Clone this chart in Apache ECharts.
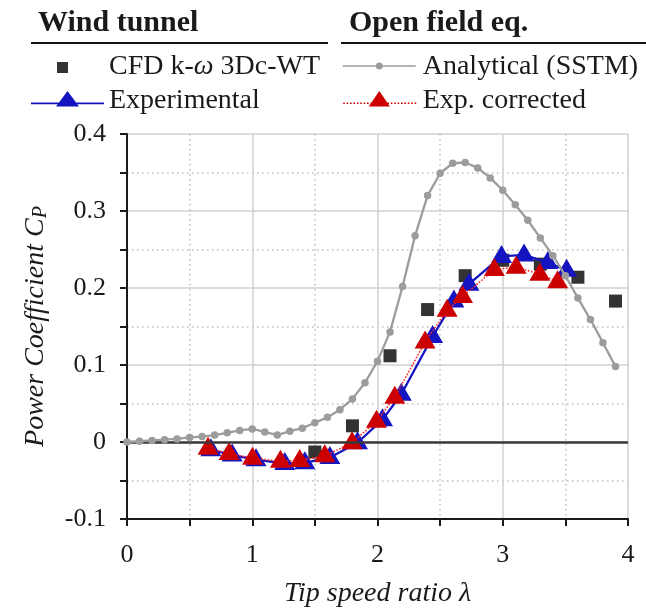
<!DOCTYPE html>
<html><head><meta charset="utf-8">
<script src="https://cdn.jsdelivr.net/npm/echarts@6/dist/echarts.min.js"></script>
<style>html,body{margin:0;padding:0;background:#fff}#c{width:646px;height:613px}</style>
</head><body><div id="c"></div>
<script>
// ---- data ----
const xTicks = [0, 1, 2, 3, 4];
const yTicks = [-0.1, 0, 0.1, 0.2, 0.3, 0.4];

const sstmLambda = [0,0.1,0.2,0.3,0.4,0.5,0.6,0.7,0.8,0.9,1.0,1.1,1.2,1.3,1.4,1.5,1.6,1.7,1.8,1.9,
                    2.0,2.1,2.2,2.3,2.4,2.5,2.6,2.7,2.8,2.9,3.0,3.1,3.2,3.3,3.4,3.5,3.6,3.7,3.8,3.9];
const sstmCp = [0.000,0.001,0.002,0.003,0.004,0.006,0.007,0.009,0.012,0.015,0.017,0.013,0.009,0.014,0.018,
                0.025,0.032,0.042,0.056,0.077,0.105,0.143,0.202,0.268,0.320,0.349,0.362,0.363,0.356,0.343,
                0.327,0.308,0.288,0.265,0.242,0.216,0.187,0.159,0.129,0.098];

const cfdLambda = [1.5, 1.8, 2.1, 2.4, 2.7, 3.0, 3.3, 3.6, 3.9];
const cfdCp     = [-0.013, 0.021, 0.112, 0.172, 0.216, 0.236, 0.231, 0.214, 0.183];

const expLambda = [0.67, 0.84, 1.03, 1.26, 1.42, 1.62, 1.84, 2.04, 2.19, 2.44, 2.61, 2.73, 2.99, 3.17, 3.36, 3.51];
const expCp     = [-0.010, -0.017, -0.023, -0.028, -0.027, -0.020, -0.001, 0.029, 0.062, 0.137, 0.183, 0.205, 0.241, 0.243, 0.233, 0.223];

const corLambda = [0.647, 0.815, 1.002, 1.225, 1.379, 1.579, 1.797, 1.992, 2.138, 2.38, 2.556, 2.679, 2.933, 3.107, 3.296, 3.438];
const corCp     = [-0.008, -0.015, -0.021, -0.025, -0.024, -0.018, -0.001, 0.027, 0.058, 0.130, 0.171, 0.189, 0.224, 0.227, 0.218, 0.208];

const NAME_CFD = 'CFD k-ω 3Dc-WT';
const NAME_EXP = 'Experimental';
const NAME_SSTM = 'Analytical (SSTM)';
const NAME_COR = 'Exp. corrected';

// ---- styling ----
const FONT = 'Liberation Serif';
const TXT = '#1a1a1a';
const GRAY = '#9c9c9c';
const BLUE = '#1414c0';
const RED = '#cc0000';
const RED_LINE = '#ff2a2a';

const pairs = (xs, ys) => xs.map((x, i) => [x, ys[i]]);

// legend icons (paths sized to the legend item box)
let dots = '';
for (let x = 0.5; x < 73; x += 3.4) { dots += 'M' + x.toFixed(2) + ' 11.5h1.6v1.6h-1.6Z'; }
const ICON_CFD  = 'path://M0 0M73 20M26 5H37V16H26Z';
const ICON_EXP  = 'path://M0 0M73 20M0 11.5H73V13.2H0Z M25 15.5L36.5 0L48 15.5Z';
const ICON_SSTM = 'path://M0 0M75 20M0 8.2H73V9.8H0Z M33.1 9A3.5 3.5 0 1 1 40.1 9A3.5 3.5 0 1 1 33.1 9Z';
const ICON_COR  = 'path://M0 0M75 20' + dots + 'M26 15.5L36.6 0L47.2 15.5Z';

const legendText = {
  fontFamily: FONT, fontSize: 28, lineHeight: 28, color: TXT,
  rich: { i: { fontFamily: FONT, fontSize: 28, lineHeight: 28, fontStyle: 'italic', color: TXT } }
};
const fmt = n => n.replace('ω', '{i|ω}');

const chart = echarts.init(document.getElementById('c'), null, { renderer: 'canvas' });
chart.setOption({
  animation: false,
  backgroundColor: '#ffffff',
  grid: { left: 127, right: 18, top: 134, bottom: 91, containLabel: false },
  graphic: [
    { type: 'text', left: 38, top: 8, style: { text: 'Wind tunnel', fontFamily: FONT, fontWeight: 'bold', fontSize: 30, fill: TXT } },
    { type: 'text', left: 349, top: 8, style: { text: 'Open field eq.', fontFamily: FONT, fontWeight: 'bold', fontSize: 30, fill: TXT } },
    { type: 'line', shape: { x1: 31, y1: 43, x2: 328, y2: 43 }, style: { stroke: '#111', lineWidth: 2 } },
    { type: 'line', shape: { x1: 341, y1: 43, x2: 646, y2: 43 }, style: { stroke: '#111', lineWidth: 2 } }
  ],
  legend: [
    {
      orient: 'vertical', left: 31, top: 53, itemWidth: 73, itemHeight: 20, itemGap: 6,
      padding: 0, textStyle: legendText, formatter: fmt,
      data: [ { name: NAME_CFD, icon: ICON_CFD }, { name: NAME_EXP, icon: ICON_EXP } ]
    },
    {
      orient: 'vertical', left: 342.7, top: 53, itemWidth: 75, itemHeight: 20, itemGap: 6,
      padding: 0, textStyle: legendText, formatter: fmt,
      data: [ { name: NAME_SSTM, icon: ICON_SSTM }, { name: NAME_COR, icon: ICON_COR } ]
    }
  ],
  xAxis: {
    type: 'value', min: xTicks[0], max: xTicks[xTicks.length - 1], interval: 1,
    name: 'Tip speed ratio λ', nameLocation: 'middle', nameGap: 61,
    nameTextStyle: { fontFamily: FONT, fontSize: 28, fontStyle: 'italic', color: TXT },
    axisLine: { show: true, onZero: false, lineStyle: { color: '#1a1a1a', width: 2 } },
    axisTick: { show: true, inside: false, length: 7, lineStyle: { color: '#1a1a1a', width: 2 } },
    minorTick: { show: true, splitNumber: 2, length: 7, lineStyle: { color: '#1a1a1a', width: 2 } },
    axisLabel: { fontFamily: FONT, fontSize: 26, color: TXT, margin: 23 },
    splitLine: { show: true, lineStyle: { color: '#d0d0d0', width: 1.5 } },
    minorSplitLine: { show: true, lineStyle: { color: '#bdbdbd', width: 1.5, type: [1.5, 3.5] } }
  },
  yAxis: {
    type: 'value', min: yTicks[0], max: yTicks[yTicks.length - 1], interval: 0.1,
    name: '{a|Power Coefficient C}{s|P}', nameLocation: 'middle', nameGap: 76, nameRotate: 90,
    nameTextStyle: {
      fontFamily: FONT, fontSize: 28, fontStyle: 'italic', color: TXT,
      rich: {
        a: { fontFamily: FONT, fontSize: 28, fontStyle: 'italic', color: TXT, lineHeight: 30 },
        s: { fontFamily: FONT, fontSize: 20, fontStyle: 'italic', color: TXT, lineHeight: 20, verticalAlign: 'bottom' }
      }
    },
    axisLine: { show: true, onZero: false, lineStyle: { color: '#1a1a1a', width: 2 } },
    axisTick: { show: true, inside: false, length: 7, lineStyle: { color: '#1a1a1a', width: 2 } },
    minorTick: { show: true, splitNumber: 2, length: 7, lineStyle: { color: '#1a1a1a', width: 2 } },
    axisLabel: { fontFamily: FONT, fontSize: 26, color: TXT, margin: 21,
                 formatter: v => String(Math.round(v * 10) / 10) },
    splitLine: { show: true, lineStyle: { color: '#d0d0d0', width: 1.5 } },
    minorSplitLine: { show: true, lineStyle: { color: '#bdbdbd', width: 1.5, type: [1.5, 3.5] } }
  },
  series: [
    {
      name: NAME_CFD, type: 'scatter', z: 2,
      data: pairs(cfdLambda, cfdCp),
      symbol: 'rect', symbolSize: 13,
      itemStyle: { color: '#000000' },
      markLine: {
        silent: true, symbol: 'none', label: { show: false },
        lineStyle: { color: '#3a3a3a', width: 2.5, type: 'solid' },
        data: [ { yAxis: 0 } ]
      }
    },
    {
      name: NAME_EXP, type: 'line', z: 3,
      data: pairs(expLambda, expCp),
      symbol: 'triangle', symbolSize: [21, 18], symbolOffset: [0, -2.5],
      showAllSymbol: true,
      lineStyle: { color: BLUE, width: 2.3 },
      itemStyle: { color: BLUE }
    },
    {
      name: NAME_COR, type: 'line', z: 4,
      data: pairs(corLambda, corCp),
      symbol: 'triangle', symbolSize: [21, 18], symbolOffset: [0, -2.5],
      showAllSymbol: true,
      lineStyle: { color: RED_LINE, width: 1.6, type: 'dotted' },
      itemStyle: { color: RED }
    },
    {
      name: NAME_SSTM, type: 'line', z: 5,
      data: pairs(sstmLambda, sstmCp),
      symbol: 'circle', symbolSize: 7.5, showAllSymbol: true,
      lineStyle: { color: GRAY, width: 2.3 },
      itemStyle: { color: GRAY }
    }
  ]
});
</script>
</body></html>
